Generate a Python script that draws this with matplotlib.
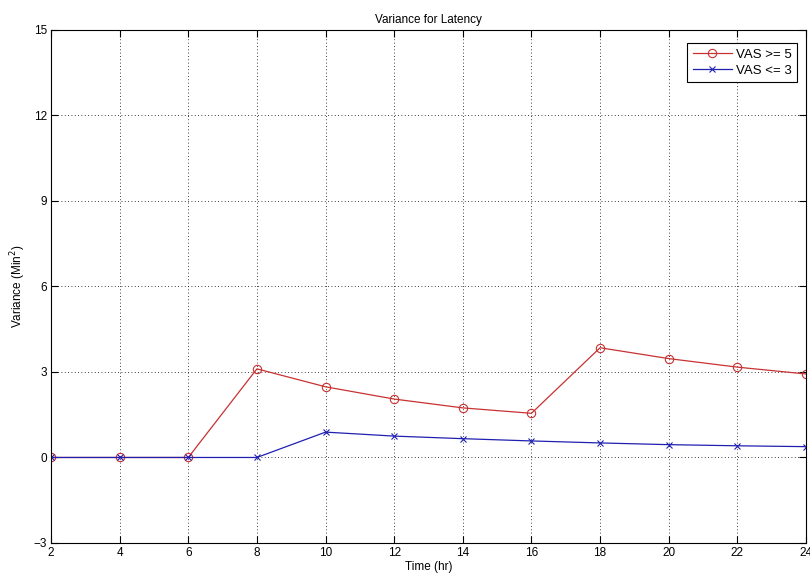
import numpy as np
import matplotlib
matplotlib.use('Agg')
import matplotlib.pyplot as plt

plt.rcParams['font.family'] = ['Liberation Sans', 'DejaVu Sans']

# data
time_hr = [2, 4, 6, 8, 10, 12, 14, 16, 18, 20, 22, 24]
vas_high = [0, 0, 0, 3.11, 2.48, 2.05, 1.74, 1.55, 3.85, 3.47, 3.17, 2.93]
vas_low = [0, 0, 0, 0, 0.89, 0.75, 0.66, 0.58, 0.51, 0.45, 0.41, 0.38]
xticks = np.arange(2, 25, 2)
yticks = np.arange(-3, 16, 3)

fig = plt.figure(figsize=(8.1, 5.78), dpi=100)
ax = fig.add_axes([0.063, 0.0606, 0.932, 0.8875])

ax.plot(time_hr, vas_high, color='#c83232', marker='o', markersize=6,
        markerfacecolor='none', markeredgewidth=0.8, linewidth=0.9, label='VAS >= 5')
ax.plot(time_hr, vas_low, color='#2020b0', marker='x', markersize=4,
        markeredgewidth=0.8, linewidth=0.9, label='VAS <= 3')

ax.set_xlim(2, 24)
ax.set_ylim(-3, 15)
ax.set_xticks(xticks)
ax.set_yticks(yticks)
ax.tick_params(direction='in', length=5, width=0.8, labelsize=8.5, top=True, right=True,
               pad=3)
ax.grid(True, color='black', linestyle=(0, (1, 3)), linewidth=0.6)
for s in ax.spines.values():
    s.set_linewidth(0.8)

ax.set_title('Variance for Latency', fontsize=8.5, pad=5)
ax.set_xlabel('Time (hr)', fontsize=8.5, labelpad=1)
ax.set_ylabel('Variance (Min$^2$)', fontsize=8.5, labelpad=4)

leg = ax.legend(loc='upper right', fontsize=9.5, fancybox=False, framealpha=1,
                edgecolor='black', borderpad=0.4, handlelength=3.0,
                handletextpad=0.3, labelspacing=0.3,
                bbox_to_anchor=(0.997, 0.987))
leg.get_frame().set_linewidth(0.8)

fig.savefig('out.png', dpi=100)
